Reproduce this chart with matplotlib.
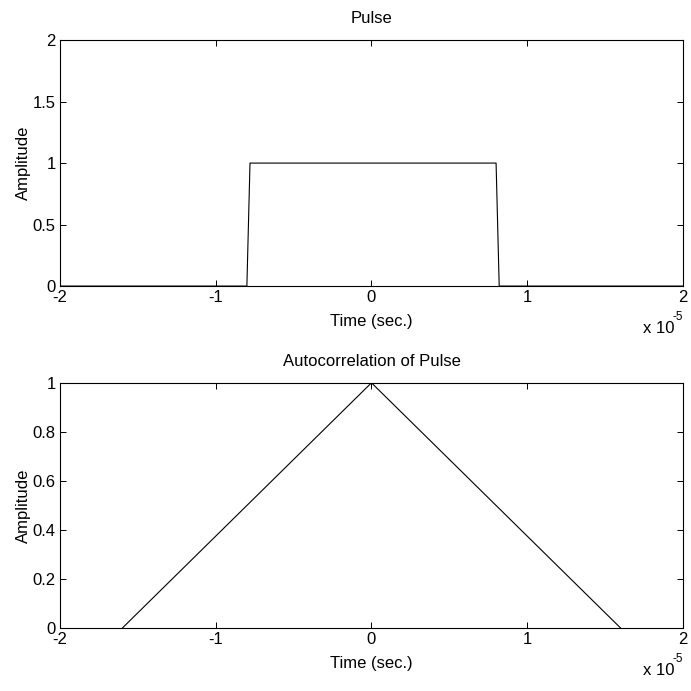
import matplotlib
matplotlib.use("Agg")
import matplotlib.pyplot as plt
from matplotlib.ticker import FuncFormatter

plt.rcParams['font.family'] = ['Liberation Sans', 'DejaVu Sans']
plt.rcParams['font.size'] = 12

# data (time in seconds)
pulse_t = [-2e-5, -0.8e-5, -0.78e-5, 0.8e-5, 0.82e-5, 2e-5]
pulse_amp = [0, 0, 1, 1, 0, 0]

acorr_t = [-1.6e-5, 0.0, 1.6e-5]
acorr_amp = [0, 1, 0]

x_ticks = [-2e-5, -1e-5, 0, 1e-5, 2e-5]
pulse_yticks = [0, 0.5, 1, 1.5, 2]
acorr_yticks = [0, 0.2, 0.4, 0.6, 0.8, 1]


def fmt_num(v):
    return '%g' % round(v, 6)


def style(ax, yticks, title):
    ax.set_xlim(-2e-5, 2e-5)
    ax.set_xticks(x_ticks)
    ax.xaxis.set_major_formatter(FuncFormatter(lambda v, p: fmt_num(v / 1e-5)))
    ax.set_ylim(yticks[0], yticks[-1])
    ax.set_yticks(yticks)
    ax.yaxis.set_major_formatter(FuncFormatter(lambda v, p: fmt_num(v)))
    ax.tick_params(direction='in', length=4.5, width=0.7, top=True, right=True, pad=3)
    for sp in ax.spines.values():
        sp.set_linewidth(0.8)
    ax.set_title(title, pad=12, fontsize=12)
    ax.set_xlabel("Time (sec.)")
    ax.xaxis.set_label_coords(0.5, -0.115)
    ax.set_ylabel("Amplitude", labelpad=1)
    # MATLAB style exponent under the right end of the x axis
    ax.annotate("x 10", xy=(1.0, -0.172), xycoords='axes fraction',
                xytext=(-6, 0), textcoords='offset points', ha='right', va='center')
    ax.annotate("-5", xy=(1.0, -0.172), xycoords='axes fraction',
                xytext=(0, 8), textcoords='offset points', ha='right', va='center',
                fontsize=8.5)


fig = plt.figure(figsize=(6.91, 6.91), dpi=100)
ax1 = fig.add_axes([0.0868, 0.586, 0.9016, 0.356])
ax2 = fig.add_axes([0.0868, 0.091, 0.9016, 0.355])

ax1.plot(pulse_t, pulse_amp, color='black', lw=0.8)
style(ax1, pulse_yticks, "Pulse")

ax2.plot(acorr_t, acorr_amp, color='black', lw=0.8)
style(ax2, acorr_yticks, "Autocorrelation of Pulse")

fig.savefig("out.png", dpi=100)
